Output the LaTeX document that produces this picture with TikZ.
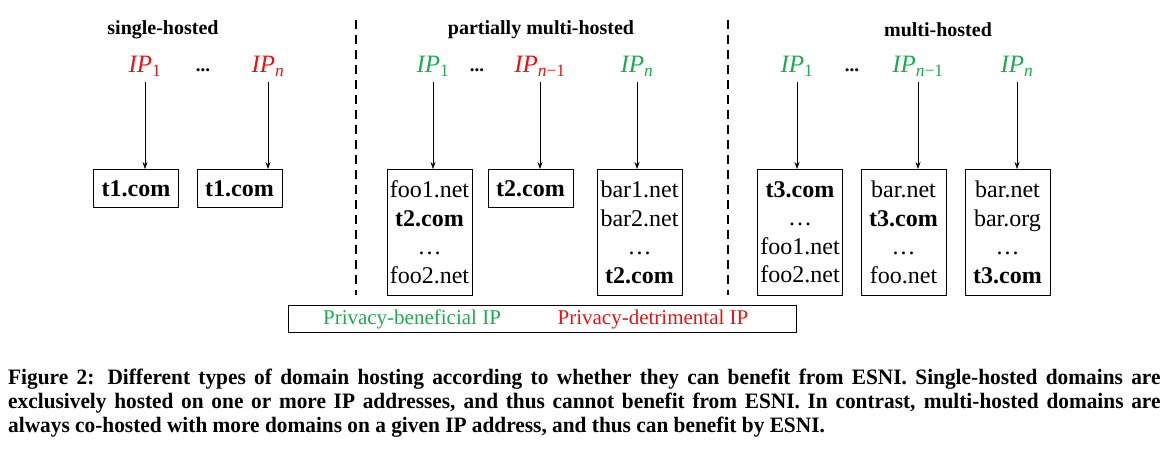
\documentclass[tikz,border=0pt]{standalone}
\usepackage{fontspec}
\setmainfont{Liberation Serif}
\usetikzlibrary{arrows.meta}
\definecolor{ipg}{RGB}{30,170,80}
\definecolor{ipr}{RGB}{230,20,20}
\newcommand{\ipl}[1]{\textit{IP}\textsubscript{#1}}
\newcommand{\capline}[2][s]{\scalebox{0.97}[1]{\makebox[1188pt][#1]{#2}}}
\tikzset{
 x=1pt,y=-1pt,
 head/.style={font=\fontsize{20}{22}\selectfont\bfseries},
 ip/.style={font=\fontsize{25}{26}\selectfont},
 dots/.style={font=\fontsize{19}{20}\selectfont\bfseries},
 box/.style={draw,line width=0.9pt,minimum width=85pt,anchor=north,inner sep=0pt,align=center,font=\fontsize{24}{28.5}\selectfont},
 arr/.style={-{Stealth[length=7pt,width=5pt]},line width=0.7pt},
 sep/.style={dashed,line width=1.3pt,dash pattern=on 9pt off 6pt}
}
\begin{document}
\begin{tikzpicture}
\useasboundingbox (0,0) rectangle (1170,451);
\node[head] at (163,30) {single-hosted};
\node[head] at (541,30) {partially multi-hosted};
\node[head] at (938,30) {multi-hosted};
% IPs
\node[ip,text=ipr] (a1) at (145,66) {\ipl{1}};
\node[dots] at (203,70) {...};
\node[ip,text=ipr] (a2) at (268,66) {\ipl{\textit{n}}};
\node[ip,text=ipg] (b1) at (433,66) {\ipl{1}};
\node[dots] at (477,70) {...};
\node[ip,text=ipr] (b2) at (540,66) {\ipl{\textit{n}−1}};
\node[ip,text=ipg] (b3) at (637,66) {\ipl{\textit{n}}};
\node[ip,text=ipg] (c1) at (797,66) {\ipl{1}};
\node[dots] at (852,70) {...};
\node[ip,text=ipg] (c2) at (918,66) {\ipl{\textit{n}−1}};
\node[ip,text=ipg] (c3) at (1017,66) {\ipl{\textit{n}}};
% boxes
\node[box,minimum height=38pt] (A1) at (136,169) {\textbf{t1.com}};
\node[box,minimum height=38pt] (A2) at (239.5,169) {\textbf{t1.com}};
\node[box,minimum height=126pt] (B1) at (429.5,169) {foo1.net\\\textbf{t2.com}\\…\\foo2.net};
\node[box,minimum height=38pt] (B2) at (530.5,169) {\textbf{t2.com}};
\node[box,minimum height=126pt] (B3) at (639.5,169) {bar1.net\\bar2.net\\…\\\textbf{t2.com}};
\node[box,minimum height=126pt] (C1) at (800,169) {\textbf{t3.com}\\…\\foo1.net\\foo2.net};
\node[box,minimum height=126pt] (C2) at (903.5,169) {bar.net\\\textbf{t3.com}\\…\\foo.net};
\node[box,minimum height=126pt] (C3) at (1007.5,169) {bar.net\\bar.org\\…\\\textbf{t3.com}};
\foreach \s/\t/\xx in {a1/A1/145,a2/A2/268,b1/B1/433,b2/B2/540,b3/B3/637,c1/C1/797,c2/C2/918,c3/C3/1017}
  \draw[arr] (\xx,82) coordinate (s\s) (s\s) -- (\t.north -| s\s);
\draw[sep] (356,20) -- (356,295);
\draw[sep] (728,20) -- (728,295);
% legend
\node[draw,line width=0.9pt,minimum width=508pt,minimum height=27pt,inner sep=0pt] (L) at (542,318.5) {};
\node[text=ipg,font=\fontsize{21}{22}\selectfont] at (412,319) {Privacy-beneficial IP};
\node[text=ipr,font=\fontsize{21}{22}\selectfont] at (653,319) {Privacy-detrimental IP};
% caption
\node[anchor=north west,inner sep=0pt,align=left,font=\fontsize{22}{24}\selectfont\bfseries] (cap) at (8,369)
{\capline{Figure 2: Different types of domain hosting according to whether they can benefit from ESNI. Single-hosted domains are}\\
\capline{exclusively hosted on one or more IP addresses, and thus cannot benefit from ESNI. In contrast, multi-hosted domains are}\\
\scalebox{0.97}[1]{always co-hosted with more domains on a given IP address, and thus can benefit by ESNI.}};
\end{tikzpicture}
\end{document}
